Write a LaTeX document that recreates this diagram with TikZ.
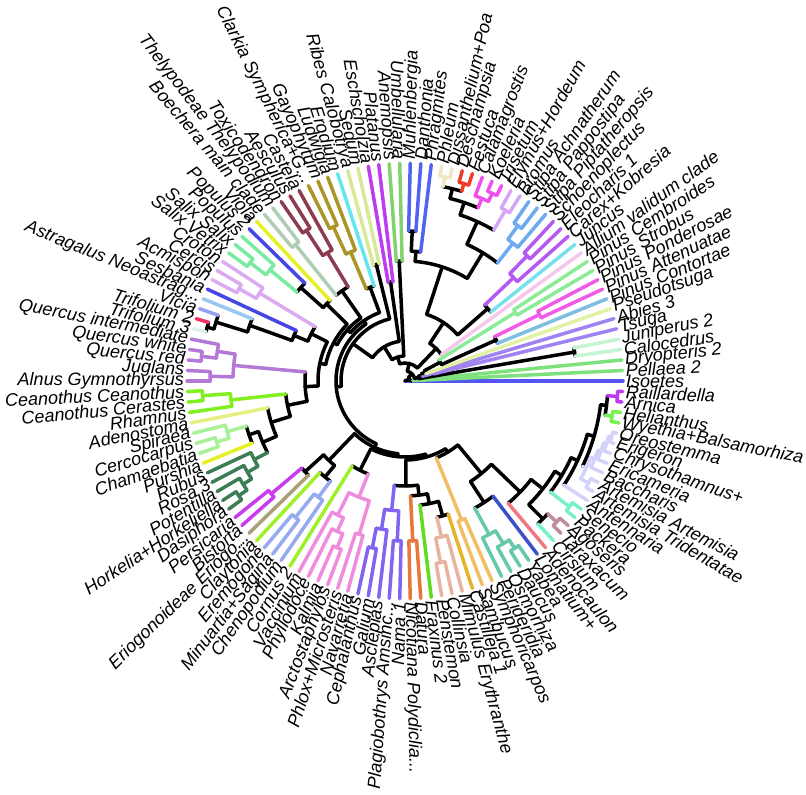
\documentclass[tikz,border=0pt]{standalone}
\usepackage{fontspec}
\setmainfont{Liberation Sans}

\definecolor{kIso}{RGB}{84,84,240}
\definecolor{kFern}{RGB}{125,225,125}
\definecolor{kCup}{RGB}{195,245,210}
\definecolor{kPina}{RGB}{160,130,240}
\definecolor{kPse}{RGB}{225,242,165}
\definecolor{kPiA}{RGB}{125,190,225}
\definecolor{kPiB}{RGB}{240,90,230}
\definecolor{kPiD}{RGB}{140,235,150}
\definecolor{kAll}{RGB}{245,200,235}
\definecolor{kJun}{RGB}{120,225,235}
\definecolor{kCyp}{RGB}{180,90,240}
\definecolor{kSti}{RGB}{110,170,240}
\definecolor{kBro}{RGB}{215,165,245}
\definecolor{kKoe}{RGB}{240,80,240}
\definecolor{kFes}{RGB}{240,60,40}
\definecolor{kPhl}{RGB}{240,232,195}
\definecolor{kPac}{RGB}{80,100,240}
\definecolor{kMag}{RGB}{130,210,110}
\definecolor{kPla}{RGB}{190,60,240}
\definecolor{kSax}{RGB}{215,232,150}
\definecolor{kEro}{RGB}{100,230,240}
\definecolor{kOna}{RGB}{170,150,40}
\definecolor{kSap}{RGB}{140,60,80}
\definecolor{kBra}{RGB}{175,205,180}
\definecolor{kVio}{RGB}{230,240,40}
\definecolor{kPop}{RGB}{70,70,230}
\definecolor{kSal}{RGB}{120,235,160}
\definecolor{kFab}{RGB}{220,170,240}
\definecolor{kAsg}{RGB}{150,200,240}
\definecolor{kVic}{RGB}{150,160,240}
\definecolor{kTri}{RGB}{240,50,100}
\definecolor{kTrt}{RGB}{222,242,232}
\definecolor{kQue}{RGB}{180,120,215}
\definecolor{kCea}{RGB}{130,240,30}
\definecolor{kAde}{RGB}{230,240,130}
\definecolor{kSpi}{RGB}{170,240,150}
\definecolor{kPur}{RGB}{230,240,40}
\definecolor{kRos}{RGB}{60,125,85}
\definecolor{kPol}{RGB}{200,60,240}
\definecolor{kEri}{RGB}{170,160,120}
\definecolor{kCar}{RGB}{160,240,40}
\definecolor{kAre}{RGB}{150,170,240}
\definecolor{kErc}{RGB}{240,140,220}
\definecolor{kPhx}{RGB}{130,100,240}
\definecolor{kSol}{RGB}{230,120,60}
\definecolor{kFra}{RGB}{100,220,30}
\definecolor{kPen}{RGB}{230,180,160}
\definecolor{kMim}{RGB}{230,180,40}
\definecolor{kDip}{RGB}{240,190,100}
\definecolor{kApi}{RGB}{100,200,170}
\definecolor{kLom}{RGB}{60,80,200}
\definecolor{kAdc}{RGB}{240,120,130}
\definecolor{kCir}{RGB}{120,240,200}
\definecolor{kCic}{RGB}{190,140,160}
\definecolor{kAst}{RGB}{210,210,250}
\definecolor{kHel}{RGB}{120,240,80}
\definecolor{kMad}{RGB}{190,60,240}

\newcommand{\da}{2.769231}
\newcommand{\rt}{218}
\tikzset{br/.style={line width=3.5pt, line cap=round},
  tiplab/.style={font=\fontsize{18}{18}\selectfont\itshape, inner sep=1pt}}

\newcommand{\twig}[4]{%
  \pgfmathsetmacro\ta{#1*\da}%
  \draw[br,#3] (\ta:#2) -- (\ta:\rt);%
  \pgfmathtruncatemacro\lft{(\ta>90)&&(\ta<270)}%
  \ifnum\lft=1
    \node[tiplab,rotate=\ta-180,anchor=east] (t#1) at (\ta:220) {#4};%
  \else
    \node[tiplab,rotate=\ta,anchor=west] (t#1) at (\ta:220) {#4};%
  \fi}
\newcommand{\clade}[6]{%
  \draw[br,#6] ({#1*\da}:#2) -- ({#1*\da}:#3);%
  \draw[br,#6] ({#4*\da}:#3) arc[start angle={#4*\da}, end angle={#5*\da}, radius=#3pt];}

\begin{document}
\begin{tikzpicture}[x=1pt,y=1pt]
\useasboundingbox (-405,-414) rectangle (401,381);

\twig{0}{0}{kIso}{Isoetes}
\clade{8.99}{0}{5}{1.5}{16.47}{black}
\clade{1.5}{5}{8}{1}{2}{black}
\twig{1}{8}{kFern}{Pellaea 2}
\twig{2}{8}{kFern}{Dryopteris 2}
\clade{16.47}{5}{10}{5.27}{27.68}{black}
\clade{5.27}{10}{14}{3.5}{7.03}{black}
\clade{3.5}{14}{172}{3}{4}{black}
\twig{3}{172}{kCup}{Calocedrus}
\twig{4}{172}{kCup}{Juniperus 2}
\clade{7.03}{14}{18}{5.5}{8.5625}{black}
\clade{5.5}{18}{30}{5}{6}{kPina}
\twig{5}{30}{kPina}{Tsuga}
\twig{6}{30}{kPina}{Abies 3}
\clade{8.5625}{18}{22}{7}{10.125}{black}
\twig{7}{22}{kPse}{Pseudotsuga}
\clade{10.125}{22}{40}{8.75}{11.5}{black}
\clade{8.75}{40}{100}{8}{9.5}{black}
\twig{8}{100}{kPiA}{Pinus Contortae}
\clade{9.5}{100}{150}{9}{10}{kPiB}
\twig{9}{150}{kPiB}{Pinus Attenuatae}
\twig{10}{150}{kPiB}{Pinus Ponderosae}
\clade{11.5}{40}{130}{11}{12}{kPiD}
\twig{11}{130}{kPiD}{Pinus Strobus}
\twig{12}{130}{kPiD}{Pinus Cembroides}

\clade{27.68}{10}{18}{16.7}{38.66}{black}
\clade{16.7}{18}{45}{13}{20.43}{black}
\twig{13}{45}{kAll}{Allium validum clade}
\clade{20.43}{45}{70}{14.875}{25.98}{black}
\clade{14.875}{70}{110}{14}{15.75}{black}
\twig{14}{110}{kJun}{Juncus}
\clade{15.75}{110}{150}{15}{16.5}{kCyp}
\twig{15}{150}{kCyp}{Carex+Kobresia}
\clade{16.5}{150}{175}{16}{17}{kCyp}
\twig{16}{175}{kCyp}{Eleocharis 1}
\twig{17}{175}{kCyp}{Schoenoplectus}
\clade{25.98}{70}{120}{21.22}{30.75}{black}
\clade{21.22}{120}{150}{18.75}{23.69}{black}
\clade{18.75}{150}{175}{18}{19.5}{kSti}
\twig{18}{175}{kSti}{Stipa Piptatheropsis}
\clade{19.5}{175}{192}{19}{20}{kSti}
\twig{19}{192}{kSti}{Stipa Pappostipa}
\twig{20}{192}{kSti}{Stipa Achnatherum}
\clade{23.69}{150}{175}{21.5}{25.875}{black}
\clade{21.5}{175}{198}{21}{22}{kBro}
\twig{21}{198}{kBro}{Bromus}
\twig{22}{198}{kBro}{Elymus+Hordeum}
\clade{25.875}{175}{188}{24.25}{27.5}{black}
\clade{24.25}{188}{198}{23.5}{25}{kKoe}
\clade{23.5}{198}{207}{23}{24}{kKoe}
\twig{23}{207}{kKoe}{Trisetum}
\twig{24}{207}{kKoe}{Koeleria}
\twig{25}{198}{kKoe}{Calamagrostis}
\clade{27.5}{188}{198}{26.5}{28.5}{black}
\clade{26.5}{198}{206}{26}{27}{kFes}
\twig{26}{206}{kFes}{Festuca}
\twig{27}{206}{kFes}{Deschampsia}
\clade{28.5}{198}{208}{28}{29}{kPhl}
\twig{28}{208}{kPhl}{Dissanthelium+Poa}
\twig{29}{208}{kPhl}{Phleum}
\clade{30.75}{120}{130}{30}{31.5}{black}
\twig{30}{130}{kPac}{Phragmites}
\clade{31.5}{130}{150}{31}{32}{black}
\twig{31}{150}{kPac}{Danthonia}
\twig{32}{150}{kPac}{Muhlenbergia}

\clade{38.66}{18}{25}{33.5}{43.82}{black}
\clade{33.5}{25}{120}{33}{34}{black}
\twig{33}{120}{kMag}{Umbellularia}
\twig{34}{120}{kMag}{Anemopsis}
\clade{43.82}{25}{40}{35.5}{52.13}{black}
\clade{35.5}{40}{100}{35}{36}{black}
\twig{35}{100}{kPla}{Platanus}
\twig{36}{100}{kPla}{Eschscholzia}
\clade{52.13}{40}{64}{37.5}{66.77}{black}
\clade{37.5}{64}{120}{37}{38}{black}
\twig{37}{120}{kSax}{Sedum}
\twig{38}{120}{kSax}{Ribes Calobotrya}
\clade{66.77}{64}{69}{44.93}{88.6}{black}
\clade{44.93}{69}{73}{39.875}{49.99}{black}
\clade{39.875}{73}{100}{39}{40.75}{black}
\twig{39}{100}{kEro}{Erodium}
\clade{40.75}{100}{140}{40}{41.5}{kOna}
\twig{40}{140}{kOna}{Ludwigia}
\clade{41.5}{140}{170}{41}{42}{kOna}
\twig{41}{170}{kOna}{Gayophytum}
\twig{42}{170}{kOna}{Clarkia Sympherica+G...}
\clade{49.99}{73}{77}{45.125}{54.85}{black}
\clade{45.125}{77}{110}{43.75}{46.5}{black}
\clade{43.75}{110}{150}{43}{44.5}{kSap}
\twig{43}{150}{kSap}{Castela}
\clade{44.5}{150}{180}{44}{45}{kSap}
\twig{44}{180}{kSap}{Aesculus}
\twig{45}{180}{kSap}{Toxicodendron}
\clade{46.5}{110}{175}{46}{47}{kBra}
\twig{46}{175}{kBra}{Thelypodeae Thelypodium}
\twig{47}{175}{kBra}{Boechera main clade}
\clade{54.85}{77}{81}{48.94}{60.76}{black}
\clade{48.94}{81}{110}{48}{49.875}{black}
\twig{48}{110}{kVio}{Viola}
\clade{49.875}{110}{140}{49}{50.75}{black}
\twig{49}{140}{kPop}{Populus 2}
\clade{50.75}{140}{175}{50}{51.5}{kSal}
\twig{50}{175}{kSal}{Populus}
\clade{51.5}{175}{195}{51}{52}{kSal}
\twig{51}{195}{kSal}{Salix Salix}
\twig{52}{195}{kSal}{Salix Vetrix}
\clade{60.76}{81}{87}{55.34}{66.18}{black}
\clade{55.34}{87}{105}{53.75}{56.94}{black}
\clade{53.75}{105}{170}{53}{54.5}{kFab}
\twig{53}{170}{kFab}{Croton}
\clade{54.5}{170}{190}{54}{55}{kFab}
\twig{54}{190}{kFab}{Cercis}
\twig{55}{190}{kFab}{Acmispon}
\clade{56.94}{105}{120}{56}{57.875}{black}
\twig{56}{120}{kPop}{Sesbania}
\clade{57.875}{120}{165}{57}{58.75}{black}
\twig{57}{165}{kAsg}{Astragalus Neoastrag...}
\clade{58.75}{165}{198}{58}{59.5}{black}
\twig{58}{198}{kVic}{Vicia}
\clade{59.5}{198}{205}{59}{60}{black}
\twig{59}{205}{kTri}{Trifolium 2}
\twig{60}{205}{kTrt}{Trifolium 3}
\clade{66.18}{87}{100}{63.125}{69.23}{black}
\clade{63.125}{100}{172}{61.75}{64.5}{kQue}
\clade{61.75}{172}{190}{61}{62.5}{kQue}
\twig{61}{190}{kQue}{Quercus intermediate}
\clade{62.5}{190}{205}{62}{63}{kQue}
\twig{62}{205}{kQue}{Quercus white}
\twig{63}{205}{kQue}{Quercus red}
\clade{64.5}{172}{195}{64}{65}{kQue}
\twig{64}{195}{kQue}{Juglans}
\twig{65}{195}{kQue}{Alnus Gymnothyrsus}
\clade{69.23}{100}{120}{67.25}{71.2}{black}
\clade{67.25}{120}{175}{66.5}{68}{kCea}
\clade{66.5}{175}{203}{66}{67}{kCea}
\twig{66}{203}{kCea}{Ceanothus Ceanothus}
\twig{67}{203}{kCea}{Ceanothus Cerastes}
\twig{68}{175}{kCea}{Rhamnus}
\clade{71.2}{120}{140}{69}{73.41}{black}
\twig{69}{140}{kAde}{Adenostoma}
\clade{73.41}{140}{155}{71.875}{74.94}{black}
\clade{71.875}{155}{165}{70.75}{73}{black}
\clade{70.75}{165}{185}{70}{71.5}{kSpi}
\twig{70}{185}{kSpi}{Spiraea}
\clade{71.5}{185}{198}{71}{72}{kSpi}
\twig{71}{198}{kSpi}{Cercocarpus}
\twig{72}{198}{kSpi}{Chamaebatia}
\twig{73}{165}{kPur}{Purshia}
\clade{74.94}{155}{170}{74}{75.875}{kRos}
\twig{74}{170}{kRos}{Rubus}
\clade{75.875}{170}{182}{75}{76.75}{kRos}
\twig{75}{182}{kRos}{Rosa 3}
\clade{76.75}{182}{192}{76}{77.5}{kRos}
\twig{76}{192}{kRos}{Potentilla}
\clade{77.5}{192}{202}{77}{78}{kRos}
\twig{77}{202}{kRos}{Horkelia+Horkeliella}
\twig{78}{202}{kRos}{Dasiphora}

\clade{88.6}{69}{73}{81.69}{95.5}{black}
\clade{81.69}{73}{110}{80.25}{83.125}{black}
\clade{80.25}{110}{135}{79.5}{81}{black}
\clade{79.5}{135}{175}{79}{80}{kPol}
\twig{79}{175}{kPol}{Persicaria}
\twig{80}{175}{kPol}{Bistorta}
\twig{81}{135}{kEri}{Eriogonoideae Eriogo...}
\clade{83.125}{110}{125}{82}{84.25}{black}
\twig{82}{125}{kCar}{Claytonia}
\clade{84.25}{125}{145}{83.5}{85}{kAre}
\clade{83.5}{145}{175}{83}{84}{kAre}
\twig{83}{175}{kAre}{Eremogone}
\twig{84}{175}{kAre}{Minuartia+Sagina}
\twig{85}{145}{kAre}{Chenopodium}
\clade{95.5}{73}{76}{87.84}{103.17}{black}
\clade{87.84}{76}{100}{86}{89.69}{black}
\twig{86}{100}{kCar}{Cornus 2}
\clade{89.69}{100}{125}{87.875}{91.5}{kErc}
\clade{87.875}{125}{150}{87}{88.75}{kErc}
\twig{87}{150}{kErc}{Vaccinium}
\clade{88.75}{150}{165}{88}{89.5}{kErc}
\twig{88}{165}{kErc}{Phyllodoce}
\clade{89.5}{165}{180}{89}{90}{kErc}
\twig{89}{180}{kErc}{Kalmia}
\twig{90}{180}{kErc}{Arctostaphylos}
\clade{91.5}{125}{160}{91}{92}{kErc}
\twig{91}{160}{kErc}{Phlox+Microsteris}
\twig{92}{160}{kErc}{Navarretia}
\clade{103.17}{76}{79}{97.70}{108.64}{black}
\clade{97.70}{79}{105}{95.375}{100.03}{black}
\clade{95.375}{105}{130}{94.25}{96.5}{kPhx}
\clade{94.25}{130}{150}{93.5}{95}{kPhx}
\clade{93.5}{150}{170}{93}{94}{kPhx}
\twig{93}{170}{kPhx}{Cephalanthus}
\twig{94}{170}{kPhx}{Galium}
\twig{95}{150}{kPhx}{Asclepias}
\clade{96.5}{130}{160}{96}{97}{kPhx}
\twig{96}{160}{kPhx}{Plagiobothrys Amsinc...}
\twig{97}{160}{kPhx}{Nama 1}
\clade{100.03}{105}{115}{98.5}{101.56}{black}
\clade{98.5}{115}{160}{98}{99}{kSol}
\twig{98}{160}{kSol}{Nicotiana Polydiclia...}
\twig{99}{160}{kSol}{Datura}
\clade{101.56}{115}{125}{100}{103.125}{black}
\twig{100}{125}{kFra}{Fraxinus 2}
\clade{103.125}{125}{140}{102.25}{104}{black}
\clade{102.25}{140}{160}{101.5}{103}{kPen}
\clade{101.5}{160}{185}{101}{102}{kPen}
\twig{101}{185}{kPen}{Penstemon}
\twig{102}{185}{kPen}{Collinsia}
\twig{103}{160}{kPen}{Mimulus Erythranthe}
\twig{104}{140}{kMim}{Castilleja 1}
\clade{108.64}{79}{83}{105.5}{111.79}{black}
\clade{105.5}{83}{150}{105}{106}{kDip}
\twig{105}{150}{kDip}{Sambucus}
\twig{106}{150}{kDip}{Symphoricarpos}
\clade{111.79}{83}{120}{109.44}{114.13}{black}
\clade{109.44}{120}{145}{107.875}{111}{black}
\clade{107.875}{145}{175}{107}{108.75}{kApi}
\twig{107}{175}{kApi}{Perideridia}
\clade{108.75}{175}{190}{108}{109.5}{kApi}
\twig{108}{190}{kApi}{Osmorhiza}
\clade{109.5}{190}{200}{109}{110}{kApi}
\twig{109}{200}{kApi}{Daucus}
\twig{110}{200}{kApi}{Yabea}
\twig{111}{145}{kLom}{Lomatium+}
\clade{114.13}{120}{160}{112}{116.27}{black}
\twig{112}{160}{kAdc}{Adenocaulon}
\clade{116.27}{160}{175}{113.75}{118.78}{black}
\clade{113.75}{175}{195}{113}{114.5}{black}
\twig{113}{195}{kCir}{Cirsium}
\clade{114.5}{195}{207}{114}{115}{kCic}
\twig{114}{207}{kCic}{Taraxacum}
\twig{115}{207}{kCic}{Agoseris}
\clade{118.78}{175}{183}{116.5}{121.05}{black}
\clade{116.5}{183}{207}{116}{117}{kCir}
\twig{116}{207}{kCir}{Packera}
\twig{117}{207}{kCir}{Senecio}
\clade{121.05}{183}{190}{118}{124.11}{black}
\twig{118}{190}{kAst}{Antennaria}
\clade{124.11}{190}{197}{120.72}{127.5}{black}
\clade{120.72}{197}{201}{119.5}{121.94}{kAst}
\clade{119.5}{201}{210}{119}{120}{kAst}
\twig{119}{210}{kAst}{Artemisia Tridentatae}
\twig{120}{210}{kAst}{Artemisia Artemisia}
\clade{121.94}{201}{205}{121}{122.875}{kAst}
\twig{121}{205}{kAst}{Baccharis}
\clade{122.875}{205}{208}{122}{123.75}{kAst}
\twig{122}{208}{kAst}{Ericameria}
\clade{123.75}{208}{211}{123}{124.5}{kAst}
\twig{123}{211}{kAst}{Chrysothamnus+}
\clade{124.5}{211}{214}{124}{125}{kAst}
\twig{124}{214}{kAst}{Erigeron}
\twig{125}{214}{kAst}{Oreostemma}
\clade{127.5}{197}{203}{126.5}{128.5}{black}
\clade{126.5}{203}{210}{126}{127}{kHel}
\twig{126}{210}{kHel}{Wyethia+Balsamorhiza}
\twig{127}{210}{kHel}{Helianthus}
\clade{128.5}{203}{213}{128}{129}{kMad}
\twig{128}{213}{kMad}{Arnica}
\twig{129}{213}{kMad}{Raillardella}
\end{tikzpicture}
\end{document}
